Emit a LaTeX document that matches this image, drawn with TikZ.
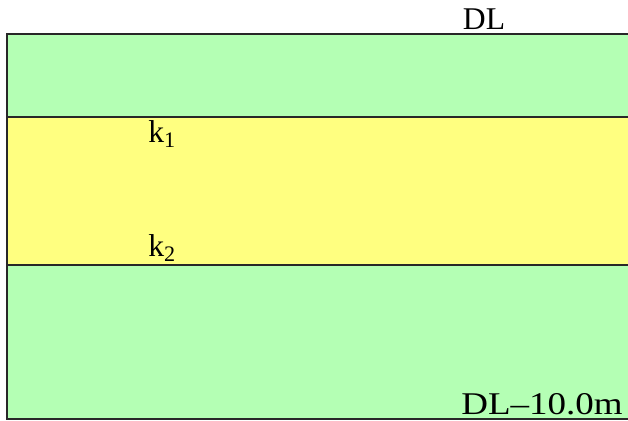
\documentclass[tikz,border=0pt]{standalone}
\usepackage{fontspec}
\setmainfont{Liberation Serif}
\definecolor{layergreen}{RGB}{180,255,180}
\definecolor{layeryellow}{RGB}{255,255,128}
\definecolor{edgegray}{RGB}{40,40,40}
\tikzset{
	layer/.style={draw=edgegray,line width=1.1pt},
	lbl/.style={inner sep=0pt,font=\fontsize{18}{20}\selectfont}
}
\begin{document}
\begin{tikzpicture}[x=0.02cm,y=-0.02cm]
	\useasboundingbox (0,0) rectangle (628,421);
	\begin{scope}
		\clip (0,0) rectangle (628,421);
		% soil layers
		\draw[layer,fill=layergreen] (7,34) rectangle (640,117);
		\draw[layer,fill=layeryellow] (7,117) rectangle (640,265);
		\draw[layer,fill=layergreen] (7,265) rectangle (640,419);
	\end{scope}
	% labels
	\node[lbl,anchor=base] (top) at (484,30) {DL};
	\node[lbl,anchor=base west] (k1) at (148,143) {k\textsubscript{1}};
	\node[lbl,anchor=base west] (k2) at (148,257) {k\textsubscript{2}};
	\node[lbl,anchor=base east] (bottom) at (623,415) {\scalebox{1.17}[1]{DL--10.0m}};
\end{tikzpicture}
\end{document}
